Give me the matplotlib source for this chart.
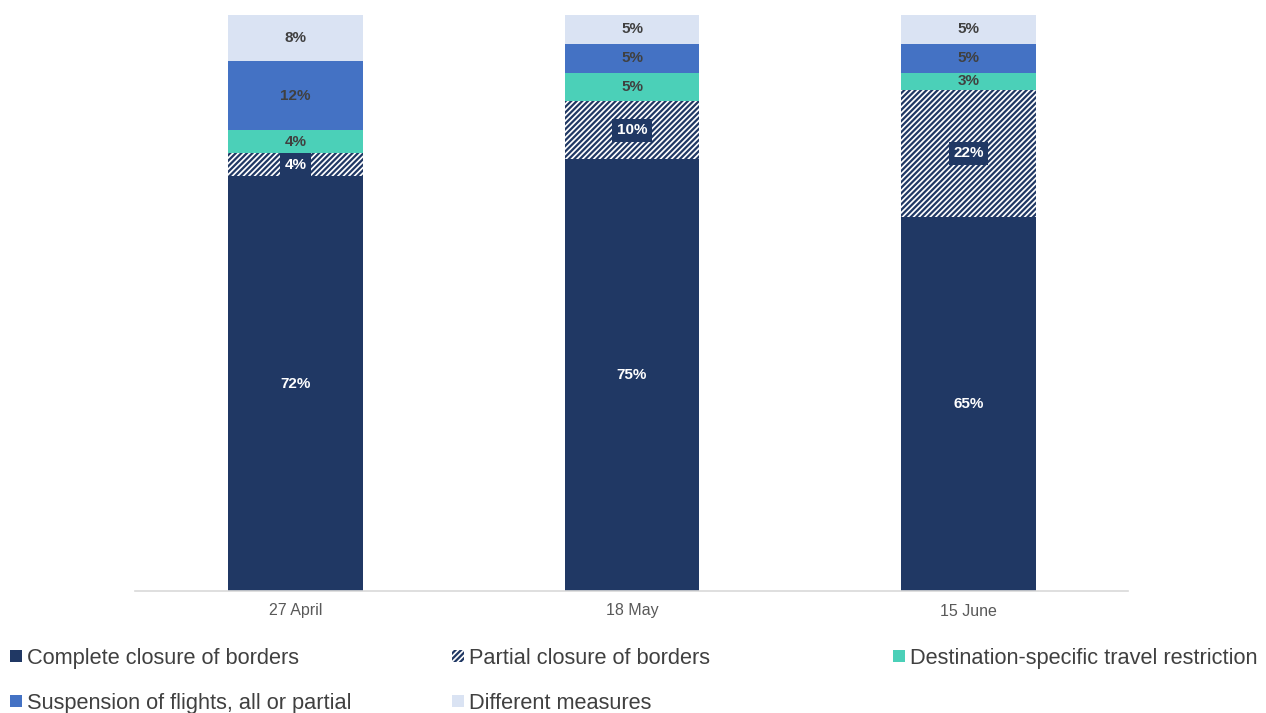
import numpy as np
import matplotlib.pyplot as plt
from matplotlib.patches import Rectangle

plt.rcParams['font.family'] = ['Liberation Sans', 'DejaVu Sans']
plt.rcParams['hatch.linewidth'] = 1.6

dates = ['27 April', '18 May', '15 June']
series = ['Complete closure of borders', 'Partial closure of borders',
          'Destination-specific travel restriction',
          'Suspension of flights, all or partial', 'Different measures']
complete = [72, 75, 65]
partial = [4, 10, 22]
destination = [4, 5, 3]
flights = [12, 5, 5]
different = [8, 5, 5]

navy = '#203864'
colors = [navy, 'white', '#4bd0b8', '#4472c4', '#dae3f3']
hatches = [None, '//////', None, None, None]
txt_colors = ['white', 'white', '#404040', '#404040', '#404040']

fig = plt.figure(figsize=(12.66, 7.13), dpi=100)
ax = fig.add_axes([135/1266, 1-591/713, 993/1266, 576/713])

x = np.arange(len(dates))
bottom = np.zeros(len(dates))
for i, vals in enumerate([complete, partial, destination, flights, different]):
    vals = np.array(vals, dtype=float)
    bars = ax.bar(x, vals, 0.4, bottom=bottom, color=colors[i],
                  edgecolor=navy if hatches[i] else colors[i],
                  linewidth=0, hatch=hatches[i])
    for xi, b, v in zip(x, bottom, vals):
        box = None
        if hatches[i]:
            box = dict(boxstyle='square,pad=0.3', fc=navy, ec='none')
        ax.text(xi, b + v/2, f'{v:.0f}%', ha='center', va='center',
                fontsize=11, fontweight='bold', color=txt_colors[i], bbox=box)
    bottom += vals

ax.set_xlim(-0.5 + 8/337, 2.5 - 9/337)
ax.set_ylim(0, 100)
ax.set_xticks(x)
ax.set_xticklabels(dates, fontsize=11.5, color='#595959')
ax.tick_params(axis='x', length=0, pad=9)
ax.set_yticks([])
for s in ['top', 'left', 'right']:
    ax.spines[s].set_visible(False)
ax.spines['bottom'].set_color('#d9d9d9')
ax.spines['bottom'].set_linewidth(1.2)

# legend laid out in a fixed grid under the plot
col_x = [10, 452, 893]
row_y = [656, 701]
for k, name in enumerate(series):
    cx = col_x[k % 3]
    cy = row_y[k // 3]
    fig.patches.append(Rectangle((cx/1266, (713-cy-6)/713), 12/1266, 12/713,
                                 transform=fig.transFigure, figure=fig,
                                 facecolor=colors[k],
                                 edgecolor=navy if hatches[k] else colors[k],
                                 linewidth=0, hatch=hatches[k]))
    fig.text((cx+17)/1266, (713-cy)/713, name, fontsize=15.7, color='#404040',
             va='center_baseline', ha='left')

fig.savefig('out.png', dpi=100)
